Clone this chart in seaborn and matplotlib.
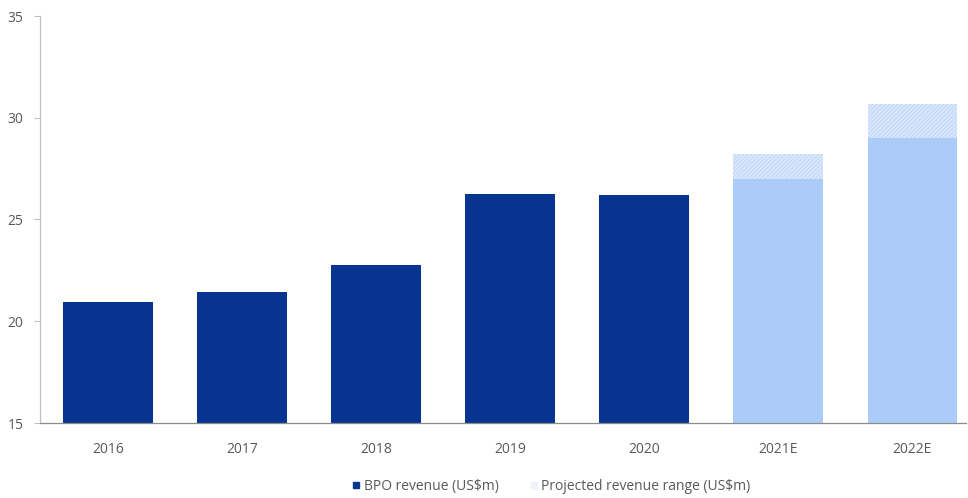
import numpy as np
import pandas as pd
import matplotlib
matplotlib.use("Agg")
import matplotlib.pyplot as plt
import seaborn as sns
from matplotlib.lines import Line2D

years = ['2016', '2017', '2018', '2019', '2020', '2021E', '2022E']
revenue = [20.95, 21.45, 22.75, 26.25, 26.2, 27.0, 29.0]
range_high = [np.nan, np.nan, np.nan, np.nan, np.nan, 28.2, 30.7]
projected = [False, False, False, False, False, True, True]

sns.set_theme(style="white")
plt.rcParams['font.family'] = ['Open Sans', 'DejaVu Sans']
plt.rcParams['hatch.linewidth'] = 0.6

NAVY = '#07348f'
LIGHT = '#abcbf8'
HATCH_FACE = '#c8dcf9'
TEXT = '#595959'

df = pd.DataFrame({'year': years, 'revenue': revenue, 'high': range_high,
                   'kind': ['proj' if p else 'act' for p in projected]})

fig = plt.figure(figsize=(9.68, 4.98), dpi=100)
ax = fig.add_axes([40/968, 1-423/498, (966-40)/968, (423-16)/498])

# Projected range (hatched) drawn first
dfh = df.dropna(subset=['high'])
sns.barplot(data=dfh, x='year', y='high', order=years, color=HATCH_FACE,
            width=0.67, ax=ax, linewidth=0, edgecolor='#e8f0fc',
            hatch='////////', saturation=1)
# Revenue bars
sns.barplot(data=df, x='year', y='revenue', order=years, hue='kind',
            palette={'act': NAVY, 'proj': LIGHT}, width=0.67, ax=ax,
            linewidth=0, saturation=1, legend=False, dodge=False)

ax.set_ylim(15, 35)
ax.set_yticks([15, 20, 25, 30, 35])
ax.set_xlim(-0.51, 6.40)
ax.set_xlabel('')
ax.set_ylabel('')
for s in ['top', 'right']:
    ax.spines[s].set_visible(False)
ax.spines['left'].set_color('#bfbfbf')
ax.spines['bottom'].set_color('#8c8c8c')
ax.spines['left'].set_linewidth(0.9)
ax.spines['bottom'].set_linewidth(0.9)
ax.tick_params(axis='y', which='both', left=True, length=4, width=0.8,
               color='#bfbfbf', labelsize=10, labelcolor=TEXT, pad=8)
ax.tick_params(axis='x', bottom=False, labelsize=10, labelcolor=TEXT, pad=8)

handles = [Line2D([0], [0], marker='s', linestyle='none', markersize=5,
                  markerfacecolor=NAVY, markeredgecolor=NAVY),
           Line2D([0], [0], marker='s', linestyle='none', markersize=5,
                  markerfacecolor='#eef3fb', markeredgecolor='#eef3fb')]
fig.legend(handles, ['BPO revenue (US$m)', 'Projected revenue range (US$m)'],
           loc='center', bbox_to_anchor=(550/968, 1-486/498), ncol=2,
           frameon=False, fontsize=10, labelcolor=TEXT, handletextpad=0.05,
           columnspacing=2.0, handlelength=1.0)

fig.savefig('out.png', dpi=100)
